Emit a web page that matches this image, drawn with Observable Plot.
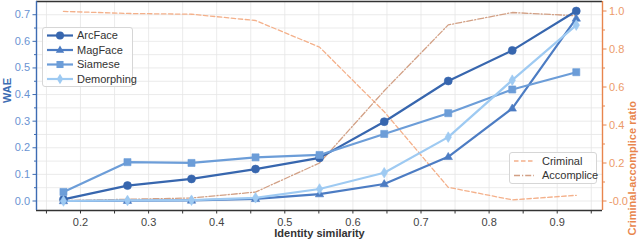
<!DOCTYPE html>
<html>
<head>
<meta charset="utf-8">
<script src="https://cdn.jsdelivr.net/npm/d3@7"></script>
<script src="https://cdn.jsdelivr.net/npm/@observablehq/plot@0.6"></script>
<style>
  html, body { margin: 0; padding: 0; background: #fff; }
  #wrap { position: relative; width: 640px; height: 243px; font-family: "Liberation Sans", Arial, sans-serif; }
  .legend { position: absolute; background: rgba(255,255,255,0.85); border: 1px solid #d6d6d6; border-radius: 3px; box-sizing: border-box; }
  .legend svg { position: absolute; left: 0; top: 0; overflow: visible; }
</style>
</head>
<body>
<div id="wrap"></div>
<script>
// ---- data ----
const similarity = [0.175, 0.269, 0.363, 0.457, 0.551, 0.646, 0.740, 0.834, 0.928];
const arcface    = [0.006, 0.058, 0.083, 0.120, 0.162, 0.298, 0.451, 0.566, 0.714];
const magface    = [0.000, 0.001, 0.002, 0.008, 0.026, 0.064, 0.166, 0.348, 0.686];
const siamese    = [0.034, 0.146, 0.143, 0.164, 0.173, 0.252, 0.330, 0.419, 0.484];
const demorphing = [0.000, 0.002, 0.003, 0.012, 0.045, 0.106, 0.240, 0.454, 0.661];
const criminal   = [0.998, 0.987, 0.983, 0.950, 0.810, 0.470, 0.072, 0.006, 0.030];
const accomplice = [0.002, 0.009, 0.016, 0.047, 0.200, 0.580, 0.927, 0.992, 0.975];

const xTicks = [0.2, 0.3, 0.4, 0.5, 0.6, 0.7, 0.8, 0.9];
const xMinor = [0.15, 0.25, 0.35, 0.45, 0.55, 0.65, 0.75, 0.85, 0.95];
const yTicks = [0, 0.1, 0.2, 0.3, 0.4, 0.5, 0.6, 0.7];
const yMinor = [0.05, 0.15, 0.25, 0.35, 0.45, 0.55, 0.65, 0.75];
const rTicks = [0, 0.2, 0.4, 0.6, 0.8, 1.0];
const rMinor = [0.1, 0.3, 0.5, 0.7, 0.9];

// ---- styles ----
const C = {
  ArcFace: "#3766ae",
  MagFace: "#4c7cc3",
  Siamese: "#6c9dd8",
  Demorphing: "#9ecaf2",
  Criminal: "#f4b08a",
  Accomplice: "#d2a085",
  left: "#3d6cb3",
  leftTick: "#6a93d2",
  right: "#e8854d",
  rightTick: "#ec9a6a"
};

const xDomain = [0.1354, 0.9665];
const yDomain = [-0.0357, 0.7497];   // WAE
const rDomain = [-0.05, 1.05];       // criminal-accomplice ratio
const toLeft = d3.scaleLinear().domain(rDomain).range(yDomain);

const series = [
  {name: "Criminal", values: criminal, dash: "4.5,2.5"},
  {name: "Accomplice", values: accomplice, dash: "6,2,1.2,2"}
];
const models = [
  {name: "ArcFace", values: arcface, symbol: "circle"},
  {name: "MagFace", values: magface, symbol: "triangle"},
  {name: "Siamese", values: siamese, symbol: "square"},
  {name: "Demorphing", values: demorphing, symbol: "thin"}
];

const thinDiamond = {
  draw(ctx, size) {
    const h = Math.sqrt(size) * 0.75, w = h * 0.6;
    ctx.moveTo(0, -h); ctx.lineTo(w, 0); ctx.lineTo(0, h); ctx.lineTo(-w, 0); ctx.closePath();
  }
};
const triSym = {
  draw(ctx, size) {
    const r = Math.sqrt(size) * 0.62;
    ctx.moveTo(0, -r); ctx.lineTo(r * 0.95, r * 0.62); ctx.lineTo(-r * 0.95, r * 0.62); ctx.closePath();
  }
};
const symOf = s => s === "thin" ? thinDiamond : s === "triangle" ? triSym : s;

const ratioRows = series.flatMap(s => s.values.map((v, i) => ({name: s.name, x: similarity[i], y: toLeft(v)})));
const modelRows = models.flatMap(m => m.values.map((v, i) => ({name: m.name, x: similarity[i], y: v})));

const marks = [
  Plot.gridX(xMinor.concat(xTicks), {stroke: "#e6e6e6", strokeOpacity: 1, strokeWidth: 0.8}),
  Plot.gridY(yMinor.concat(yTicks), {stroke: "#e6e6e6", strokeOpacity: 1, strokeWidth: 0.8}),
  // bottom axis
  Plot.axisX(xTicks.concat(xMinor), {anchor: "bottom", tickSize: 3.5, tickPadding: 4, stroke: "#333", fill: "#444",
    tickFormat: d => xTicks.some(t => Math.abs(t - d) < 1e-9) ? d.toFixed(1) : "", fontSize: 11, label: null}),
  // left axis
  Plot.axisY(yTicks, {anchor: "left", tickSize: 3.5, tickPadding: 3, stroke: C.left, fill: C.leftTick,
    tickFormat: d => d.toFixed(1), fontSize: 11, label: null}),
  Plot.axisY(yMinor.filter(d => d < yDomain[1]), {anchor: "left", tickSize: 2, stroke: C.left, tickFormat: () => "", label: null}),
  // right axis (mapped from ratio scale)
  Plot.axisY(rTicks.map(toLeft), {anchor: "right", tickSize: 3.5, tickPadding: 3, stroke: C.right, fill: C.rightTick,
    tickFormat: d => toLeft.invert(d).toFixed(1), fontSize: 11, label: null}),
  Plot.axisY(rMinor.map(toLeft), {anchor: "right", tickSize: 2, stroke: C.right, tickFormat: () => "", label: null}),
  // ratio lines
  ...series.map(s => Plot.line(ratioRows.filter(r => r.name === s.name),
      {x: "x", y: "y", stroke: C[s.name], strokeWidth: 1.3, strokeDasharray: s.dash})),
  // model lines
  ...models.map(m => Plot.line(modelRows.filter(r => r.name === m.name),
      {x: "x", y: "y", stroke: C[m.name], strokeWidth: 2.2})),
  ...models.map(m => Plot.dot(modelRows.filter(r => r.name === m.name),
      {x: "x", y: "y", fill: C[m.name], stroke: C[m.name], strokeWidth: 0.6, r: 4, symbol: () => symOf(m.symbol)})),
  // spines
  Plot.ruleY([yDomain[0]], {stroke: "#333", strokeWidth: 1.4}),
  Plot.ruleY([yDomain[1]], {stroke: "#333", strokeWidth: 1.4}),
  Plot.ruleX([xDomain[0]], {stroke: C.left, strokeWidth: 1.4}),
  Plot.ruleX([xDomain[1]], {stroke: C.right, strokeWidth: 1.4}),
  // axis titles
  Plot.text(["Identity similarity"], {frameAnchor: "bottom", dy: 26, fontSize: 11, fontWeight: "bold", fill: "#333"}),
  Plot.text(["WAE"], {frameAnchor: "left", dx: -29, dy: -3, rotate: -90, fontSize: 11, fontWeight: "bold", fill: C.left}),
  Plot.text(["Criminal-accomplice ratio"], {frameAnchor: "right", dx: 30, dy: -5, rotate: -90, fontSize: 11, fontWeight: "bold", fill: C.right})
];

const chart = Plot.plot({
  width: 640, height: 243,
  marginLeft: 36, marginRight: 38, marginTop: 1, marginBottom: 33,
  style: {fontFamily: "'Liberation Sans', Arial, sans-serif", fontSize: "11px", background: "#fff", overflow: "visible"},
  x: {domain: xDomain, axis: null},
  y: {domain: yDomain, axis: null},
  symbol: {type: "identity"},
  marks
});
const wrap = document.getElementById("wrap");
wrap.appendChild(chart);

// ---- legends ----
function legend(items, box) {
  const div = document.createElement("div");
  div.className = "legend";
  Object.assign(div.style, {left: box.x + "px", top: box.y + "px", width: box.w + "px", height: box.h + "px"});
  const NS = "http://www.w3.org/2000/svg";
  const svg = document.createElementNS(NS, "svg");
  svg.setAttribute("width", box.w); svg.setAttribute("height", box.h);
  items.forEach((it, i) => {
    const y = box.y0 + i * box.dy;
    const ln = document.createElementNS(NS, "line");
    ln.setAttribute("x1", box.lx0); ln.setAttribute("x2", box.lx1);
    ln.setAttribute("y1", y); ln.setAttribute("y2", y);
    ln.setAttribute("stroke", it.color); ln.setAttribute("stroke-width", it.width);
    if (it.dash) ln.setAttribute("stroke-dasharray", it.dash);
    svg.appendChild(ln);
    if (it.symbol) {
      const s = symOf(it.symbol);
      const p = document.createElementNS(NS, "path");
      p.setAttribute("d", d3.symbol(s === "circle" ? d3.symbolCircle : s === "square" ? d3.symbolSquare : s, 50)());
      p.setAttribute("transform", `translate(${(box.lx0 + box.lx1) / 2},${y})`);
      p.setAttribute("fill", it.color);
      svg.appendChild(p);
    }
    const t = document.createElementNS(NS, "text");
    t.setAttribute("x", box.tx); t.setAttribute("y", y);
    t.setAttribute("dy", "0.35em");
    t.setAttribute("font-size", "11px");
    t.setAttribute("fill", "#333");
    t.setAttribute("font-family", "'Liberation Sans', Arial, sans-serif");
    t.textContent = it.name;
    svg.appendChild(t);
  });
  div.appendChild(svg);
  wrap.appendChild(div);
}
legend(models.map(m => ({name: m.name, color: C[m.name], width: 2.2, symbol: m.symbol})),
  {x: 42, y: 27, w: 91, h: 60, y0: 7.5, dy: 14.5, lx0: 4, lx1: 30, tx: 34});
legend(series.map(s => ({name: s.name, color: C[s.name], width: 1.3, dash: s.dash})),
  {x: 509, y: 152, w: 88, h: 32, y0: 8, dy: 14.5, lx0: 4, lx1: 24, tx: 32});
</script>
</body>
</html>
